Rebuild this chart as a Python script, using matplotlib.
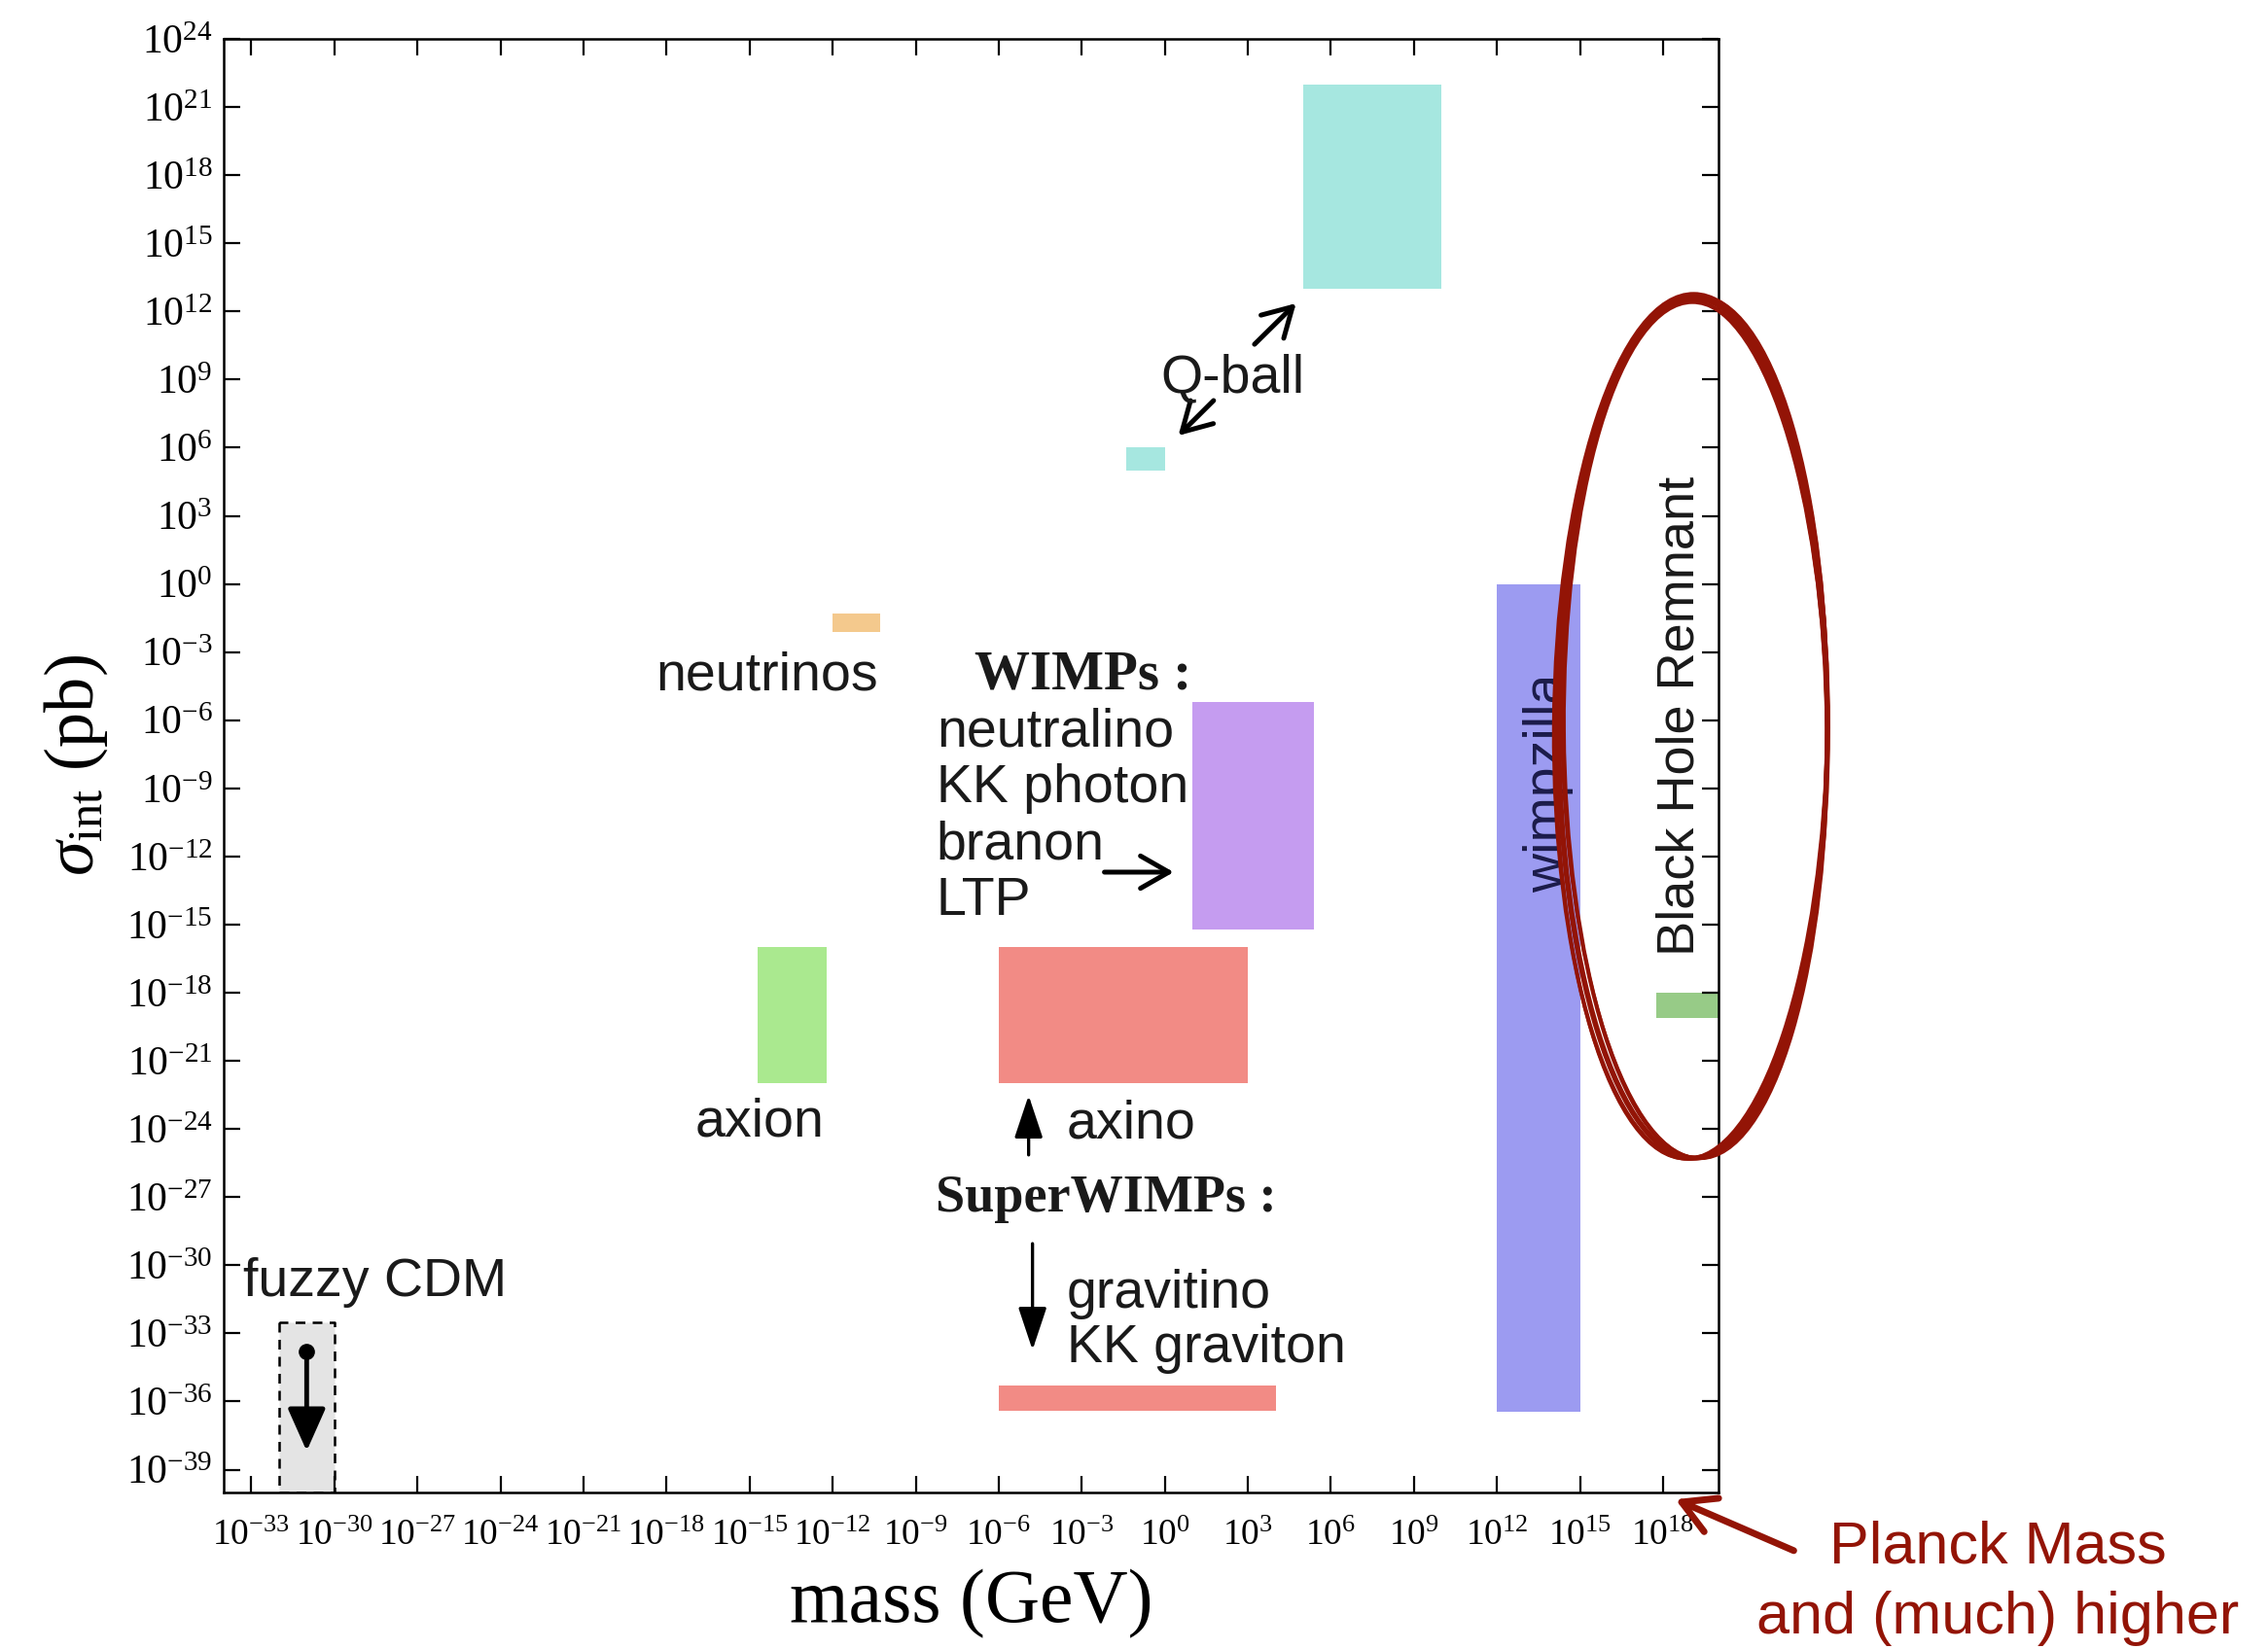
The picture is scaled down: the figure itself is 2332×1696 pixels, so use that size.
import numpy as np
import matplotlib
matplotlib.use("Agg")
import matplotlib.pyplot as plt
from matplotlib.patches import Ellipse
from matplotlib.ticker import FuncFormatter, NullLocator

plt.rcParams['font.family'] = ['Liberation Serif', 'DejaVu Serif']
plt.rcParams['mathtext.fontset'] = 'custom'
plt.rcParams['mathtext.rm'] = 'Liberation Serif'
plt.rcParams['mathtext.it'] = 'Liberation Serif:italic'
plt.rcParams['mathtext.bf'] = 'Liberation Serif:bold'

# candidate regions, log10 of mass (GeV) and cross section (pb)
regions = ["Q-ball", "Q-ball small", "neutrinos", "axion", "WIMPs",
           "axino", "gravitino", "wimpzilla", "BH remnant"]
mass_lo = [5.0, -1.4, -12.0, -14.7, 1.0, -6.0, -6.0, 12.0, 17.75]
mass_hi = [10.0, 0.0, -10.3, -12.2, 5.4, 3.0, 4.0, 15.0, 20.0]
sigma_lo = [13.0, 5.0, -2.1, -22.0, -15.2, -22.0, -36.4, -36.45, -19.1]
sigma_hi = [22.0, 6.0, -1.3, -16.0, -5.2, -16.0, -35.3, 0.0, -18.0]
fills = ["#a6e7e0", "#a6e7e0", "#f4c98d", "#aae98f", "#c59cf0",
         "#f28b85", "#f28b85", "#9c9bf1", "#97cb87"]

# fuzzy CDM box and its upper limit arrow
fuzzy_mass = [-32.0, -30.0]
fuzzy_sigma = [-40.0, -32.5]
fuzzy_point = (-31.0, -33.8)
fuzzy_arrow_tip = -38.3

xticks = list(range(-33, 19, 3))
yticks = list(range(-39, 25, 3))

SANS = ['Liberation Sans', 'DejaVu Sans']
SERIF = ['Liberation Serif', 'DejaVu Serif']
INK = "#1a1a1a"
RED = "#931406"

fig = plt.figure(figsize=(23.32, 16.96), dpi=100)
ax = fig.add_axes([0.0986, 0.0950, 0.6591, 0.8814])
ax.set_xscale("log")
ax.set_yscale("log")
ax.set_xlim(1e-34, 1e20)
ax.set_ylim(1e-40, 1e24)

for lo, hi, slo, shi, c in zip(mass_lo, mass_hi, sigma_lo, sigma_hi, fills):
    ax.fill_between([10.0 ** lo, 10.0 ** hi], 10.0 ** slo, 10.0 ** shi,
                    color=c, linewidth=0, zorder=1)

ax.fill_between([10.0 ** fuzzy_mass[0], 10.0 ** fuzzy_mass[1]],
                10.0 ** fuzzy_sigma[0], 10.0 ** fuzzy_sigma[1],
                facecolor="#e4e4e4", edgecolor="black", linestyle=(0, (4, 3)),
                linewidth=1.8, zorder=1)
ax.plot(10.0 ** fuzzy_point[0], 10.0 ** fuzzy_point[1], "o", color="black",
        markersize=11, zorder=3)
ax.annotate("", xy=(10.0 ** fuzzy_point[0], 10.0 ** fuzzy_arrow_tip),
            xytext=(10.0 ** fuzzy_point[0], 10.0 ** fuzzy_point[1]),
            arrowprops=dict(arrowstyle="-|>,head_width=0.4,head_length=0.9",
                            color="black", lw=3.5, mutation_scale=30), zorder=3)

# axes styling
ax.set_xticks([10.0 ** k for k in xticks])
ax.set_yticks([10.0 ** k for k in yticks])
ax.xaxis.set_minor_locator(NullLocator())
ax.yaxis.set_minor_locator(NullLocator())
fmt = FuncFormatter(lambda v, p: r"$10^{%d}$" % int(round(np.log10(v))))
ax.xaxis.set_major_formatter(fmt)
ax.yaxis.set_major_formatter(fmt)
ax.tick_params(which="major", direction="in", length=12, width=1.6,
               top=True, right=True, colors="black")
ax.tick_params(axis="x", labelsize=27, pad=20)
ax.tick_params(axis="y", labelsize=30, pad=8)
for s in ax.spines.values():
    s.set_linewidth(1.8)

ax.set_xlabel("mass (GeV)", fontsize=56, family=SERIF, labelpad=12)
ax.set_ylabel(r"$\sigma_{\mathrm{int}}$ (pb)", fontsize=52, family=SERIF, labelpad=12)


def L(lx, ly):
    return (10.0 ** lx, 10.0 ** ly)


# sans labels (x, baseline y) in log10 coordinates
sans_labels = [
    ("Q-ball", 2.44, 8.46, "center"),
    ("neutrinos", -18.4, -4.66, "left"),
    ("neutralino", -8.25, -7.14, "left"),
    ("KK photon", -8.25, -9.62, "left"),
    ("branon", -8.25, -12.10, "left"),
    ("LTP", -8.25, -14.57, "left"),
    ("axion", -14.65, -24.3, "center"),
    ("axino", -3.55, -24.4, "left"),
    ("gravitino", -3.55, -31.88, "left"),
    ("KK graviton", -3.55, -34.27, "left"),
    ("fuzzy CDM", -33.3, -31.37, "left"),
]
for txt, lx, ly, ha in sans_labels:
    ax.text(*L(lx, ly), txt, fontsize=40, family=SANS, color=INK,
            ha=ha, va="baseline", zorder=4)

ax.text(*L(-6.88, -4.62), "WIMPs :", fontsize=41, family=SERIF,
        fontweight="bold", color=INK, ha="left", va="baseline")
ax.text(*L(-8.29, -27.65), "SuperWIMPs :", fontsize=39, family=SERIF,
        fontweight="bold", color=INK, ha="left", va="baseline")

ax.text(*L(13.87, -8.76), "wimpzilla", fontsize=40, family=SANS,
        color="#1c1c4a", rotation=90, ha="center", va="center", zorder=4)
ax.text(*L(18.62, -5.83), "Black Hole Remnant", fontsize=39, family=SANS,
        color=INK, rotation=90, ha="center", va="center", zorder=4)

# arrows: (tail, head) in log10 coordinates
open_arrows = [
    ((3.17, 10.47), (4.81, 12.44)),
    ((1.83, 8.16), (0.42, 6.45)),
    ((-2.28, -12.69), (0.42, -12.69)),
]
for (tx, ty), (hx, hy) in open_arrows:
    ax.annotate("", xy=L(hx, hy), xytext=L(tx, ty),
                arrowprops=dict(arrowstyle="->,head_width=0.4,head_length=0.7",
                                color="black", lw=3.6, mutation_scale=30))

filled_arrows = [
    ((-4.92, -25.26), (-4.92, -22.4)),
    ((-4.78, -28.93), (-4.78, -33.85)),
]
for (tx, ty), (hx, hy) in filled_arrows:
    ax.annotate("", xy=L(hx, hy), xytext=L(tx, ty),
                arrowprops=dict(arrowstyle="-|>,head_width=0.3,head_length=0.9",
                                color="black", lw=2.4, mutation_scale=30))

# hand drawn ellipse around the Planck scale region
strokes = [(0.983, 0.526, 0.180, 0.592, 0.0, 4.0),
           (0.9845, 0.5245, 0.176, 0.589, 0.4, 3.0),
           (0.9815, 0.527, 0.183, 0.595, -0.4, 3.0),
           (0.984, 0.525, 0.1775, 0.5905, 0.8, 2.5),
           (0.982, 0.5265, 0.1815, 0.594, -0.8, 2.5)]
for cx, cy, w, h, ang, lw in strokes:
    ax.add_patch(Ellipse((cx, cy), w, h, angle=ang, transform=ax.transAxes,
                         fill=False, edgecolor=RED, lw=lw, clip_on=False,
                         zorder=6))

fig.text(0.8808, 0.052, "Planck Mass", fontsize=44, family=SANS, color=RED,
         ha="center", va="baseline")
fig.text(0.8808, 0.0094, "and (much) higher", fontsize=44, family=SANS,
         color=RED, ha="center", va="baseline")
ax.annotate("", xy=(0.7376, 0.0914), xycoords="figure fraction",
            xytext=(0.792, 0.059), textcoords="figure fraction",
            arrowprops=dict(arrowstyle="->,head_width=0.45,head_length=0.8",
                            color=RED, lw=5, mutation_scale=30))

fig.savefig("out.png", dpi=100)
